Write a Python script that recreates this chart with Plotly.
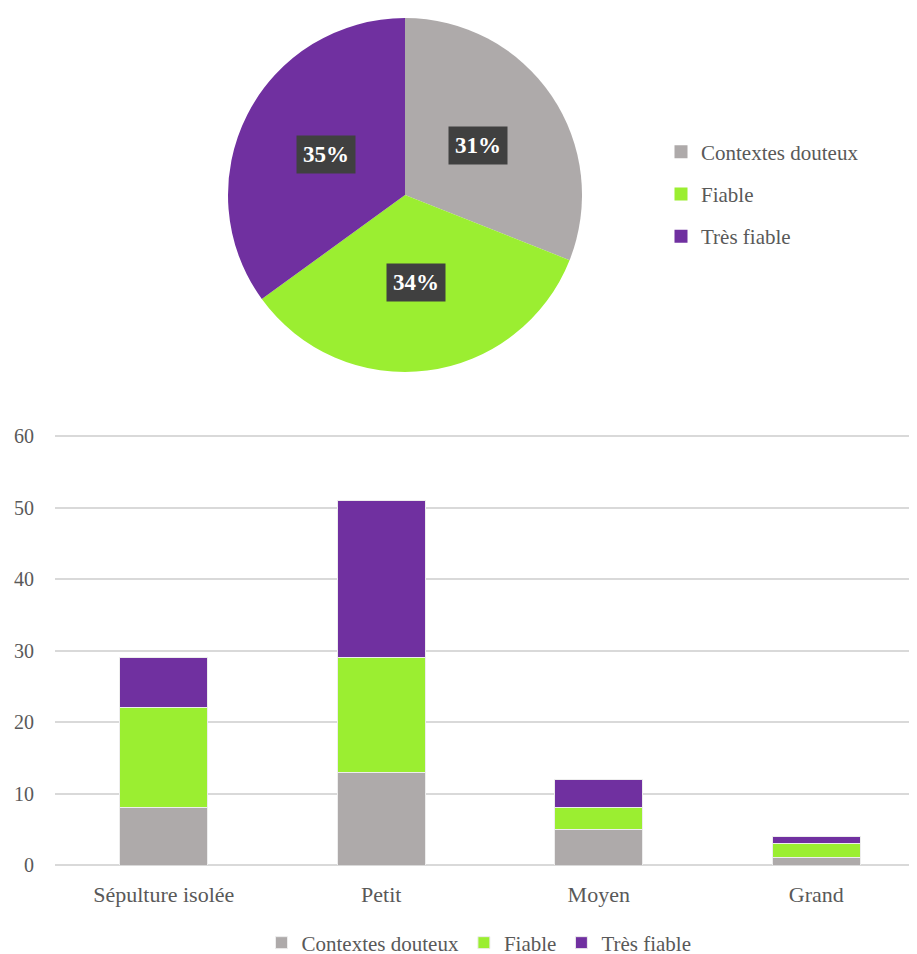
import math
import plotly.graph_objects as go

# ---- data ----
pie_labels = ["Contextes douteux", "Fiable", "Très fiable"]
pie_values = [31, 34, 35]

categories = ["Sépulture isolée", "Petit", "Moyen", "Grand"]
douteux = [8, 13, 5, 1]
fiable = [14, 16, 3, 2]
tres_fiable = [7, 22, 4, 1]
y_ticks = [0, 10, 20, 30, 40, 50, 60]

series_names = ["Contextes douteux", "Fiable", "Très fiable"]
colors = ["#AEAAAA", "#9BEE31", "#7030A0"]

FONT = "Liberation Serif"
TXT = "#595959"
W, H = 917, 954
OFF = 8  # page body margin


def PX(x):
    return (x - OFF) / W


def PY(y):
    return 1 - (y - OFF) / H


fig = go.Figure()

# ---- pie ----
pie_x = [PX(228), PX(582)]
pie_y = [PY(372), PY(18)]
fig.add_trace(go.Pie(
    labels=pie_labels, values=pie_values, sort=False, direction="clockwise",
    rotation=0, marker=dict(colors=colors, line=dict(width=0)),
    textinfo="none", showlegend=False, domain=dict(x=pie_x, y=pie_y),
    hoverinfo="label+percent",
))

# percent labels in dark boxes, positioned from the data
total = sum(pie_values)
cx = sum(pie_x) / 2
cy = sum(pie_y) / 2
r_px = (pie_x[1] - pie_x[0]) * W / 2
cum = 0
for v in pie_values:
    mid = (cum + v / 2) / total * 2 * math.pi
    cum += v
    fig.add_annotation(
        x=cx + 0.5 * r_px * math.sin(mid) / W,
        y=cy + 0.5 * r_px * math.cos(mid) / H,
        xref="paper", yref="paper", xanchor="center", yanchor="middle",
        showarrow=False,
        text="<b>%d%%</b>" % round(v / total * 100),
        font=dict(family=FONT, size=23, color="white"),
        bgcolor="#404040", borderpad=6,
    )

# ---- stacked bars ----
for name, vals, c in zip(series_names, [douteux, fiable, tres_fiable], colors):
    fig.add_trace(go.Bar(
        x=categories, y=vals, name=name,
        marker=dict(color=c, line=dict(color="#EDEDED", width=1)),
        legend="legend",
    ))

# pie legend entries (vertical, right of pie)
for i, (name, c) in enumerate(zip(pie_labels, colors)):
    fig.add_trace(go.Scatter(
        x=[None], y=[None], mode="markers", name=name,
        marker=dict(symbol="square", size=13, color=c),
        legend="legend2", legendgroup="g%d" % i, hoverinfo="skip",
    ))

fig.update_layout(
    width=W, height=H, barmode="stack", bargap=0.596,
    margin=dict(l=0, r=0, t=0, b=0, autoexpand=False),
    paper_bgcolor="white", plot_bgcolor="white",
    font=dict(family=FONT, color=TXT, size=20),
    xaxis=dict(domain=[PX(55), 1], showline=False, ticks="",
               tickfont=dict(size=22, color=TXT), ticklabelstandoff=14),
    yaxis=dict(domain=[PY(865), PY(435)], range=[0, 60.15], tickvals=y_ticks,
               showgrid=True, gridcolor="#D9D9D9", gridwidth=1.5,
               zeroline=True, zerolinecolor="#D9D9D9", zerolinewidth=1.5,
               tickfont=dict(size=20, color=TXT), ticklabelstandoff=20),
    legend=dict(orientation="h", x=PX(479), xanchor="center", y=PY(943), yanchor="middle",
                font=dict(size=21, color=TXT), traceorder="normal",
                bgcolor="rgba(0,0,0,0)"),
    legend2=dict(orientation="v", x=PX(661), xanchor="left", y=PY(194), yanchor="middle",
                 font=dict(size=21, color=TXT), tracegroupgap=12, bgcolor="rgba(0,0,0,0)"),
    showlegend=True,
)

fig.write_html("out.html")
